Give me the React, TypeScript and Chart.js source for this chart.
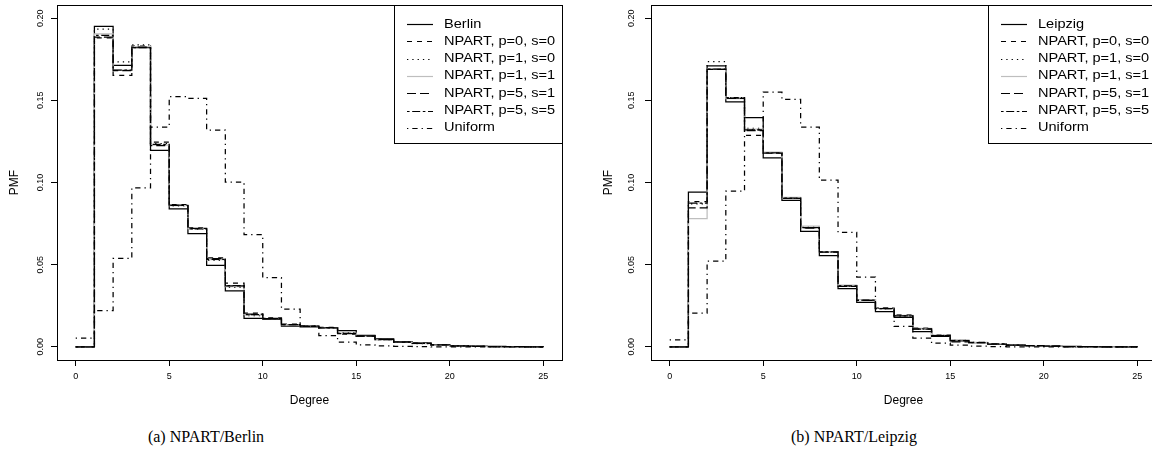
import React, { useEffect, useRef } from 'react';
import { Chart, registerables } from 'chart.js';
Chart.register(...registerables);

const degrees = [0, 1, 2, 3, 4, 5, 6, 7, 8, 9, 10, 11, 12, 13, 14, 15, 16, 17, 18, 19, 20, 21, 22, 23, 24, 25];
const xTicks = [0, 5, 10, 15, 20, 25];
const yTicks = [0, 0.05, 0.1, 0.15, 0.2];

// Berlin panel
const berlin = [0, 0.195, 0.1713, 0.1821, 0.1195, 0.0839, 0.0689, 0.0496, 0.034, 0.0173, 0.0167, 0.0126, 0.0122, 0.0116, 0.0098, 0.007, 0.0048, 0.003, 0.0022, 0.0012, 0.0006, 0.0004, 0.0003, 0.0002, 0.0001, 0];
const berlinP0S0 = [0, 0.188, 0.1652, 0.183, 0.1245, 0.0866, 0.0724, 0.0541, 0.0388, 0.0205, 0.0176, 0.0138, 0.0128, 0.0118, 0.0078, 0.0068, 0.0046, 0.0031, 0.0022, 0.0013, 0.0007, 0.0004, 0.0002, 0.0001, 0.0001, 0];
const berlinP1S0 = [0, 0.1933, 0.1734, 0.1838, 0.1236, 0.0858, 0.0716, 0.0526, 0.0362, 0.019, 0.0172, 0.0136, 0.0126, 0.0117, 0.0086, 0.0064, 0.0043, 0.0028, 0.002, 0.0011, 0.0006, 0.0003, 0.0002, 0.0001, 0, 0];
const berlinP1S1 = [0, 0.1905, 0.1686, 0.1826, 0.1228, 0.086, 0.0719, 0.0531, 0.0366, 0.0195, 0.0171, 0.0134, 0.0125, 0.0116, 0.0084, 0.0063, 0.0043, 0.0028, 0.002, 0.0011, 0.0006, 0.0003, 0.0002, 0.0001, 0, 0];
const berlinP5S1 = [0, 0.1885, 0.168, 0.1823, 0.1224, 0.0863, 0.0721, 0.0537, 0.0371, 0.0199, 0.0173, 0.0135, 0.0126, 0.0117, 0.008, 0.0066, 0.0045, 0.0029, 0.0021, 0.0012, 0.0006, 0.0003, 0.0002, 0.0001, 0, 0];
const berlinP5S5 = [0, 0.1895, 0.1683, 0.182, 0.1232, 0.0861, 0.0718, 0.0533, 0.0373, 0.0196, 0.0172, 0.0135, 0.0125, 0.0116, 0.0082, 0.0065, 0.0044, 0.0029, 0.0021, 0.0012, 0.0006, 0.0003, 0.0002, 0.0001, 0, 0];
const berlinUniform = [0.0053, 0.0221, 0.0538, 0.0967, 0.1337, 0.1522, 0.1512, 0.1319, 0.1002, 0.0683, 0.0421, 0.023, 0.0125, 0.0069, 0.0029, 0.0012, 0.0006, 0.0003, 0.0001, 0, 0, 0, 0, 0, 0, 0];

// Leipzig panel
const leipzig = [0, 0.0941, 0.1709, 0.149, 0.1394, 0.115, 0.0892, 0.0703, 0.0555, 0.0354, 0.0271, 0.0215, 0.0179, 0.0093, 0.0063, 0.0037, 0.0026, 0.0018, 0.0012, 0.0008, 0.0004, 0.0003, 0.0002, 0.0001, 0.0001, 0];
const leipzigP0S0 = [0, 0.0884, 0.1689, 0.1516, 0.1287, 0.118, 0.0906, 0.0725, 0.058, 0.0372, 0.0286, 0.0236, 0.0195, 0.0114, 0.0073, 0.004, 0.0028, 0.0018, 0.0012, 0.0007, 0.0004, 0.0002, 0.0001, 0.0001, 0, 0];
const leipzigP1S0 = [0, 0.087, 0.1735, 0.1516, 0.133, 0.1182, 0.0905, 0.073, 0.0578, 0.037, 0.0284, 0.0232, 0.019, 0.011, 0.007, 0.0041, 0.0027, 0.0018, 0.0012, 0.0007, 0.0004, 0.0002, 0.0001, 0, 0, 0];
const leipzigP1S1 = [0, 0.078, 0.169, 0.151, 0.1325, 0.1185, 0.091, 0.0735, 0.058, 0.0375, 0.0288, 0.0234, 0.0192, 0.0112, 0.0071, 0.0042, 0.0028, 0.0019, 0.0012, 0.0007, 0.0004, 0.0002, 0.0001, 0, 0, 0];
const leipzigP5S1 = [0, 0.0846, 0.1689, 0.1512, 0.1315, 0.1178, 0.0904, 0.0722, 0.0576, 0.0368, 0.0283, 0.0233, 0.0188, 0.0108, 0.0068, 0.003, 0.0025, 0.0017, 0.0011, 0.0007, 0.0004, 0.0002, 0.0001, 0, 0, 0];
const leipzigP5S5 = [0, 0.0875, 0.169, 0.1514, 0.132, 0.118, 0.0905, 0.0726, 0.0578, 0.0371, 0.0285, 0.0233, 0.0189, 0.0109, 0.0069, 0.0038, 0.0026, 0.0018, 0.0011, 0.0007, 0.0004, 0.0002, 0.0001, 0, 0, 0];
const leipzigUniform = [0.0043, 0.0205, 0.0522, 0.0947, 0.132, 0.155, 0.1506, 0.1337, 0.1014, 0.0697, 0.0425, 0.0235, 0.0124, 0.0053, 0.0022, 0.001, 0.0004, 0.0002, 0, 0, 0, 0, 0, 0, 0, 0];

const berlinLabels = ['Berlin', 'NPART, p=0, s=0', 'NPART, p=1, s=0', 'NPART, p=1, s=1', 'NPART, p=5, s=1', 'NPART, p=5, s=5', 'Uniform'];
const leipzigLabels = ['Leipzig', 'NPART, p=0, s=0', 'NPART, p=1, s=0', 'NPART, p=1, s=1', 'NPART, p=5, s=1', 'NPART, p=5, s=5', 'Uniform'];

const lineStyles = [
  { color: '#000000', dash: [] as number[] },
  { color: '#000000', dash: [5, 5] },
  { color: '#000000', dash: [1.3, 4] },
  { color: '#bebebe', dash: [] as number[] },
  { color: '#000000', dash: [9, 4] },
  { color: '#000000', dash: [2.6, 2.6, 8, 2.6] },
  { color: '#000000', dash: [1.3, 4, 5.3, 4] },
];

const SANS = '"Liberation Sans", Arial, sans-serif';

type PanelProps = {
  left: number;
  width: number;
  yAxisWidth: number;
  yTickPad: number;
  series: number[][];
  labels: string[];
};

function Panel({ left, width, yAxisWidth, yTickPad, series, labels }: PanelProps) {
  const ref = useRef<HTMLCanvasElement>(null);
  useEffect(() => {
    const plotW = 505;
    const rightPad = width - yAxisWidth - plotW;
    const framePlugin = {
      id: 'frame',
      afterDraw(chart: any) {
        const { ctx, chartArea: a } = chart;
        ctx.save();
        ctx.strokeStyle = '#000';
        ctx.lineWidth = 1;
        ctx.setLineDash([]);
        const L = Math.round(a.left), T = Math.round(a.top), R = Math.round(a.right), B = Math.round(a.bottom);
        ctx.strokeRect(L + 0.5, T + 0.5, R - L, B - T);
        // legend
        const boxW = 168, boxH = 138;
        const bx = R - boxW, by = T;
        ctx.fillStyle = '#fff';
        ctx.fillRect(bx + 1, by + 1, boxW - 1, boxH - 1);
        ctx.strokeRect(bx + 0.5, by + 0.5, boxW, boxH);
        labels.forEach((lab, i) => {
          const y = by + 19 + i * 17.3;
          const st = lineStyles[i];
          ctx.beginPath();
          ctx.setLineDash(st.dash);
          ctx.strokeStyle = st.color;
          ctx.lineWidth = 1.2;
          ctx.moveTo(bx + 13, Math.round(y) + 0.5);
          ctx.lineTo(bx + 39, Math.round(y) + 0.5);
          ctx.stroke();
          ctx.setLineDash([]);
          ctx.save();
          ctx.translate(bx + 50, y);
          ctx.scale(1.12, 1);
          ctx.fillStyle = '#000';
          ctx.font = '13px ' + SANS;
          ctx.textBaseline = 'middle';
          ctx.textAlign = 'left';
          ctx.fillText(lab, 0, 0);
          ctx.restore();
        });
        // axis titles
        ctx.fillStyle = '#000';
        ctx.font = '12px ' + SANS;
        ctx.textAlign = 'center';
        ctx.textBaseline = 'middle';
        ctx.fillText('Degree', (a.left + a.right) / 2, 401);
        ctx.save();
        ctx.translate(a.left - 42, (a.top + a.bottom) / 2);
        ctx.rotate(-Math.PI / 2);
        ctx.fillText('PMF', 0, 0);
        ctx.restore();
        ctx.restore();
      },
    };
    const n = series.length;
    const chart = new Chart(ref.current as HTMLCanvasElement, {
      type: 'line',
      data: {
        datasets: series.map((s, i) => ({
          label: labels[i],
          data: degrees.map((d, j) => ({ x: d, y: s[j] })),
          borderColor: lineStyles[i].color,
          borderDash: lineStyles[i].dash,
          borderWidth: 1.25,
          pointRadius: 0,
          stepped: true,
          fill: false,
          order: n - i,
        })),
      },
      options: {
        responsive: false,
        animation: false,
        devicePixelRatio: 1,
        layout: { padding: { top: 5, right: rightPad, left: 0, bottom: 0 } },
        plugins: { legend: { display: false }, tooltip: { enabled: false } },
        scales: {
          x: {
            type: 'linear',
            min: -1,
            max: 26,
            afterBuildTicks: (s: any) => {
              s.ticks = xTicks.map((v) => ({ value: v }));
            },
            afterFit: (s: any) => {
              s.height = 55;
              s.paddingLeft = 0;
              s.paddingRight = 0;
            },
            border: { display: false },
            grid: { drawOnChartArea: false, drawTicks: true, tickLength: 6, color: '#000', lineWidth: 1 },
            ticks: {
              autoSkip: false,
              maxRotation: 0,
              minRotation: 0,
              padding: 5.5,
              color: '#000',
              font: { family: SANS, size: 9 },
              callback: (v: any) => String(v),
            },
          },
          y: {
            type: 'linear',
            min: -0.008,
            max: 0.208,
            afterBuildTicks: (s: any) => {
              s.ticks = yTicks.map((v) => ({ value: v }));
            },
            afterFit: (s: any) => {
              s.width = yAxisWidth;
              s.paddingTop = 0;
              s.paddingBottom = 0;
            },
            border: { display: false },
            grid: { drawOnChartArea: false, drawTicks: true, tickLength: 6, color: '#000', lineWidth: 1 },
            ticks: {
              autoSkip: false,
              minRotation: 90,
              maxRotation: 90,
              crossAlign: 'center',
              padding: yTickPad,
              color: '#000',
              font: { family: SANS, size: 9 },
              callback: (v: any) => Number(v).toFixed(2),
            },
          },
        },
      } as any,
      plugins: [framePlugin],
    });
    return () => chart.destroy();
  }, []);
  return (
    <canvas
      ref={ref}
      width={width}
      height={415}
      style={{ position: 'absolute', left, top: 0, width, height: 415 }}
    />
  );
}

export default function App() {
  const captionStyle: React.CSSProperties = {
    position: 'absolute',
    top: 427,
    width: 300,
    textAlign: 'center',
    fontFamily: '"Liberation Serif", "Times New Roman", serif',
    fontSize: 16,
    lineHeight: '20px',
    color: '#000',
  };
  return (
    <div style={{ position: 'fixed', left: 0, top: 0, width: 1152, height: 461, overflow: 'hidden', background: '#fff' }}>
      <Panel
        left={0}
        width={580}
        yAxisWidth={57}
        yTickPad={2.2}
        series={[berlin, berlinP0S0, berlinP1S0, berlinP1S1, berlinP5S1, berlinP5S5, berlinUniform]}
        labels={berlinLabels}
      />
      <Panel
        left={580}
        width={600}
        yAxisWidth={71}
        yTickPad={4.5}
        series={[leipzig, leipzigP0S0, leipzigP1S0, leipzigP1S1, leipzigP5S1, leipzigP5S5, leipzigUniform]}
        labels={leipzigLabels}
      />
      <div style={{ ...captionStyle, left: 206 - 150 }}>(a) NPART/Berlin</div>
      <div style={{ ...captionStyle, left: 854 - 150 }}>(b) NPART/Leipzig</div>
    </div>
  );
}
